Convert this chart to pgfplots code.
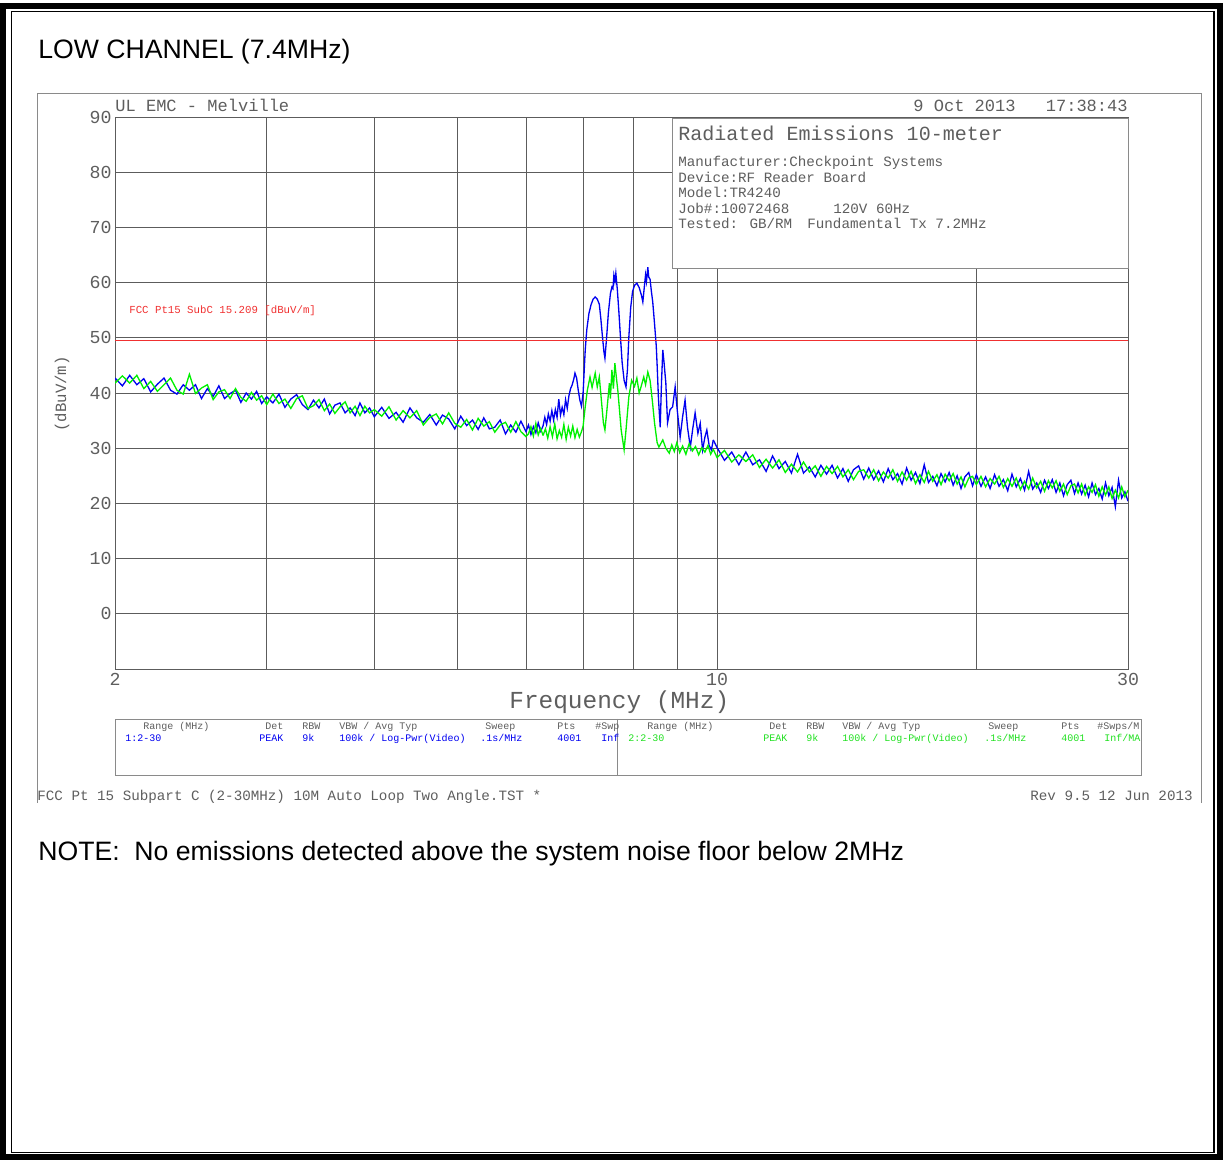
\documentclass[border=0pt]{standalone}
\usepackage{fontspec}
\setmainfont{Liberation Sans}
\newfontfamily\plotfont{Liberation Mono}
\usepackage{pgfplots}
\usepackage{pgfplotstable}
\pgfplotsset{compat=1.18}

\definecolor{gridgray}{HTML}{5C5C5C}
\definecolor{framegray}{HTML}{8A8A8A}
\definecolor{txtgray}{HTML}{5E5E5E}
\definecolor{trblue}{HTML}{0000F0}
\definecolor{trgreen}{HTML}{00F000}
\definecolor{boxgreen}{HTML}{20E020}
\definecolor{limred}{HTML}{F03030}
\newcommand\fs[1]{\fontsize{#1}{#1}\selectfont}

% 2 - 6.28 MHz, peak (b) and second trace (g), dBuV/m
\pgfplotstableread{
f b g
2.00 42.7 41.8
2.04 41.3 43.1
2.08 43.2 41.8
2.12 41.5 43.2
2.16 42.6 40.8
2.20 40.2 42.1
2.24 41.6 40.3
2.28 42.7 41.5
2.32 40.5 42.7
2.36 39.8 40.5
2.40 41.5 39.8
2.44 40.5 43.4
2.48 41.5 39.9
2.52 39.0 40.9
2.56 40.8 41.5
2.60 39.4 38.8
2.64 41.3 40.2
2.68 39.0 40.6
2.72 39.9 39.0
2.76 40.5 40.8
2.80 38.3 39.2
2.84 40.0 38.5
2.88 38.9 40.1
2.92 40.3 38.7
2.96 38.1 39.5
3.00 39.3 37.9
3.05 38.2 39.8
3.10 39.8 38.1
3.15 37.4 38.9
3.20 38.9 37.2
3.25 39.7 39.0
3.30 37.9 39.5
3.35 37.0 37.2
3.40 38.7 37.7
3.45 37.3 38.8
3.50 38.9 36.8
3.55 36.2 38.0
3.60 37.8 36.3
3.65 38.2 37.5
3.70 36.4 38.4
3.75 37.3 36.4
3.80 35.9 37.6
3.85 38.2 35.9
3.90 36.4 37.6
3.95 37.3 36.4
4.00 35.7 37.0
4.08 37.4 35.8
4.16 35.4 37.5
4.24 36.5 35.1
4.32 34.7 36.8
4.40 37.3 35.5
4.48 35.5 36.8
4.56 34.7 34.2
4.64 36.1 35.6
4.72 34.2 36.2
4.80 36.0 34.4
4.88 35.3 36.4
4.96 33.5 34.5
5.04 35.8 33.8
5.12 34.1 35.2
5.20 35.1 33.3
5.28 33.4 35.4
5.36 35.5 34.0
5.44 33.5 34.8
5.52 33.8 32.9
5.60 35.1 34.2
5.68 32.6 34.7
5.76 34.2 32.9
5.84 32.9 34.8
5.92 34.9 33.0
6.00 33.0 32.1
6.04 34.2 32.6
6.08 32.5 33.9
6.12 33.9 32.2
6.16 32.8 34.5
6.20 34.6 32.4
6.24 33.1 33.6
6.28 34.0 32.3
}\lowT

% emission region, peak trace
\pgfplotstableread{
f v
6.28 34.0
6.31 35.6
6.34 34.3
6.37 36.2
6.40 34.9
6.43 36.8
6.46 35.1
6.49 37.0
6.52 35.6
6.55 38.9
6.58 36.0
6.61 37.4
6.64 36.1
6.67 38.8
6.70 37.2
6.73 39.5
6.76 40.8
6.79 41.5
6.82 42.6
6.84 43.6
6.87 42.7
6.90 40.5
6.93 38.7
6.96 37.6
6.99 40.0
7.03 47.8
7.06 51.5
7.10 54.4
7.14 56.0
7.18 57.0
7.22 57.4
7.26 57.0
7.30 56.1
7.33 53.5
7.36 50.3
7.39 47.5
7.41 46.3
7.44 49.6
7.48 54.6
7.52 58.0
7.55 59.2
7.57 58.9
7.59 61.3
7.61 60.2
7.63 61.7
7.66 58.8
7.69 55.0
7.72 50.8
7.76 45.5
7.80 42.3
7.84 41.1
7.87 44.2
7.90 50.1
7.94 55.5
7.98 58.4
8.02 59.5
8.07 59.9
8.12 59.1
8.17 57.7
8.20 56.5
8.23 59.0
8.26 61.4
8.28 60.2
8.31 62.8
8.33 61.0
8.36 60.6
8.39 58.4
8.42 56.5
8.46 52.6
8.50 48.5
8.52 45.0
8.55 39.0
8.59 33.8
8.62 42.0
8.65 47.8
8.68 45.4
8.72 41.8
8.76 34.6
8.82 37.0
8.88 37.5
8.94 41.1
8.99 36.9
9.06 32.0
9.12 35.7
9.18 38.7
9.24 33.8
9.31 30.2
9.37 33.5
9.43 36.4
9.50 32.7
9.56 34.5
9.62 29.7
9.68 32.0
9.73 33.3
9.79 30.5
9.85 29.7
9.90 31.5
}\peakB

% emission region, second trace
\pgfplotstableread{
f v
6.28 32.3
6.32 33.5
6.36 31.8
6.40 33.9
6.44 32.1
6.48 34.4
6.52 31.7
6.56 33.2
6.60 32.0
6.64 34.3
6.68 31.6
6.72 33.8
6.76 32.2
6.80 34.0
6.84 31.9
6.88 33.4
6.92 32.0
6.96 33.0
6.99 34.0
7.03 37.5
7.07 40.5
7.12 42.9
7.16 41.0
7.22 43.6
7.26 41.1
7.30 42.9
7.34 38.7
7.38 34.6
7.41 33.3
7.45 36.9
7.50 41.8
7.52 39.0
7.55 44.2
7.58 40.8
7.61 45.4
7.64 42.9
7.67 40.5
7.70 37.5
7.74 33.3
7.80 29.7
7.84 33.3
7.90 39.3
7.96 42.3
8.02 41.2
8.07 42.7
8.12 40.0
8.16 41.1
8.22 42.9
8.26 41.5
8.31 43.8
8.36 42.3
8.41 38.7
8.46 34.6
8.52 31.0
8.56 30.2
8.65 31.5
8.72 30.0
8.80 29.1
8.86 30.6
8.92 29.4
8.98 31.0
9.05 29.2
9.12 30.4
9.20 28.9
9.28 30.8
9.36 29.5
9.44 30.3
9.52 28.8
9.60 30.1
9.68 29.3
9.76 30.5
9.83 28.9
9.90 29.8
}\peakG

% 9.9 - 30 MHz
\pgfplotstableread{
f b g
9.90 31.5 29.8
10.0 30.1 28.3
10.2 27.8 29.6
10.4 29.3 27.5
10.6 27.0 28.8
10.8 29.3 27.6
11.0 27.0 28.8
11.2 27.9 26.5
11.4 25.8 28.0
11.6 28.6 26.4
11.8 26.3 27.9
12.0 27.6 25.6
12.2 25.5 27.1
12.4 28.9 25.7
12.6 25.5 27.5
12.8 26.6 25.7
13.0 24.8 26.8
13.2 26.9 24.9
13.4 25.3 26.7
13.6 26.9 25.4
13.8 24.6 26.7
14.0 26.3 24.8
14.2 24.0 26.1
14.4 26.1 24.3
14.6 26.8 25.8
14.8 24.4 26.1
15.0 26.4 24.6
15.2 24.3 26.1
15.4 25.9 24.1
15.6 23.9 25.7
15.8 26.3 24.6
16.0 24.3 26.1
16.2 25.4 24.0
16.4 23.5 25.7
16.6 26.4 24.2
16.8 24.2 25.8
17.0 25.6 23.6
17.2 23.6 25.2
17.4 27.0 23.8
17.6 23.8 25.8
17.8 24.9 24.0
18.0 23.2 25.2
18.2 25.4 23.4
18.4 23.9 25.3
18.6 25.6 24.1
18.8 23.3 25.4
19.0 25.0 23.5
19.2 22.7 24.8
19.4 24.8 23.0
19.6 25.6 24.6
19.8 23.2 24.9
20.0 25.2 23.4
20.25 23.1 24.9
20.5 24.8 23.0
20.75 22.7 24.5
21.0 25.2 23.5
21.25 23.1 24.9
21.5 24.3 22.9
21.75 22.3 24.5
22.0 25.3 23.1
22.25 23.0 24.6
22.5 24.5 22.5
22.75 22.4 24.0
23.0 25.8 22.6
23.25 22.6 24.6
23.5 23.7 22.8
23.75 22.0 24.0
24.0 24.2 22.2
24.25 22.7 24.1
24.5 24.3 22.8
24.75 22.0 24.1
25.0 23.7 22.2
25.25 21.4 23.5
25.5 23.4 21.6
25.75 24.2 23.2
26.0 21.8 23.5
26.25 23.7 21.9
26.5 21.7 23.5
26.75 23.3 21.5
27.0 21.2 23.0
27.25 23.7 22.0
27.5 21.6 23.4
27.75 22.7 21.3
28.0 20.8 23.0
28.25 23.7 21.5
28.5 21.4 23.0
28.75 22.9 20.9
29.0 19.4 22.4
29.25 24.2 21.0
29.5 21.0 23.0
29.75 22.1 21.2
30.0 20.4 22.4
}\highT

\begin{document}
\begin{tikzpicture}
% page frame, coordinates in pixels of the original sheet
\begin{scope}[x=0.2mm,y=-0.2mm]
\draw[line width=1.2mm] (3,6) rectangle (1220,1157.5);
\draw[line width=0.35mm] (11.5,11.5) rectangle (1214,1152.5);
\draw[framegray, line width=0.45pt] (37,803) -- (37,93) -- (1201,93) -- (1201,803);
\end{scope}

\begin{axis}[
    at={(23mm,-133.8mm)}, anchor=south west,
    scale only axis,
    width=202.6mm, height=110.4mm,
    xmode=log,
    xmin=2, xmax=30,
    ymin=-10, ymax=90,
    xtick={2,10,30},
    xticklabels={2,10,30},
    minor xtick={3,4,5,6,7,8,9,20},
    ytick={-10,0,10,20,30,40,50,60,70,80,90},
    yticklabels={,0,10,20,30,40,50,60,70,80,90},
    grid=both,
    major grid style={gridgray, line width=0.45pt},
    minor grid style={gridgray, line width=0.45pt},
    axis line style={gridgray, line width=0.45pt},
    major tick length=0pt, minor tick length=0pt,
    tick label style={font=\plotfont\fs{10.4}, text=txtgray},
    yticklabel style={inner sep=0pt, xshift=-0.6mm},
    xticklabel style={inner sep=0pt, yshift=-0.8mm},
]
\addplot[trblue, line width=0.75pt] table[x=f, y=b] {\lowT};
\addplot[trblue, line width=0.75pt] table[x=f, y=v] {\peakB};
\addplot[trblue, line width=0.75pt] table[x=f, y=b] {\highT};
\addplot[trgreen, line width=0.75pt] table[x=f, y=g] {\lowT};
\addplot[trgreen, line width=0.75pt] table[x=f, y=v] {\peakG};
\addplot[trgreen, line width=0.75pt] table[x=f, y=g] {\highT};
\addplot[limred, line width=0.6pt] coordinates {(2,49.5) (30,49.5)};
\end{axis}

\begin{scope}[x=0.2mm,y=-0.2mm, every node/.style={inner sep=0pt}]
% titles in the page font
\node[anchor=base west, font=\fs{15.15}] at (38,59) {LOW CHANNEL (7.4MHz)};
\node[anchor=base west, font=\fs{15.15}] at (38,861)
  {NOTE:\ \ No emissions detected above the system noise floor below 2MHz};

% plot header
\node[anchor=base west, font=\plotfont\fs{9.7}, text=txtgray] at (115,111.5) {UL EMC - Melville};
\node[anchor=base west, font=\plotfont\fs{9.7}, text=txtgray] at (913,111.5) {9 Oct 2013};
\node[anchor=base east, font=\plotfont\fs{9.7}, text=txtgray] at (1128,111.5) {17:38:43};

% test description box
\draw[framegray, fill=white, line width=0.45pt] (672,118) rectangle (1128,268);
\node[anchor=base west, font=\plotfont\fs{11.4}, text=txtgray] at (678,140.5) {Radiated Emissions 10-meter};
\begin{scope}[every node/.append style={anchor=base west, font=\plotfont\fs{8.1}, text=txtgray}]
\node at (678,166.5) {Manufacturer:Checkpoint Systems};
\node at (678,182.5) {Device:RF Reader Board};
\node at (678,197.5) {Model:TR4240};
\node at (678,213.5) {Job\#:10072468};
\node at (833,213.5) {120V 60Hz};
\node at (678,228.5) {Tested: GB/RM};
\node at (807,228.5) {Fundamental Tx 7.2MHz};
\end{scope}

% limit label and axis labels
\node[anchor=base west, font=\plotfont\fs{6.1}, text=limred] at (129,314) {FCC Pt15 SubC 15.209 [dBuV/m]};
\node[rotate=90, font=\plotfont\fs{8.9}, text=txtgray] at (62,394) {(dBuV/m)};
\node[anchor=base west, font=\plotfont\fs{13.9}, text=txtgray] at (509,709) {Frequency (MHz)};

% sweep settings box
\draw[framegray, line width=0.45pt] (115,719) rectangle (1141,775);
\draw[framegray, line width=0.45pt] (617,719) -- (617,775);
\begin{scope}[every node/.append style={anchor=base west, font=\plotfont\fs{5.7}, text=txtgray}]
\node at (143,730) {Range (MHz)};
\node at (265,730) {Det};
\node at (302,730) {RBW};
\node at (339,730) {VBW / Avg Typ};
\node at (485,730) {Sweep};
\node at (557,730) {Pts};
\node at (595,730) {\#Swp};
\node at (647,730) {Range (MHz)};
\node at (769,730) {Det};
\node at (806,730) {RBW};
\node at (842,730) {VBW / Avg Typ};
\node at (988,730) {Sweep};
\node at (1061,730) {Pts};
\node at (1097,730) {\#Swps/M};
\end{scope}
\begin{scope}[every node/.append style={anchor=base west, font=\plotfont\fs{5.7}, text=trblue}]
\node at (125,742) {1:2-30};
\node at (259,742) {PEAK};
\node at (302,742) {9k};
\node at (339,742) {100k / Log-Pwr(Video)};
\node at (480,742) {.1s/MHz};
\node at (557,742) {4001};
\node at (601,742) {Inf};
\end{scope}
\begin{scope}[every node/.append style={anchor=base west, font=\plotfont\fs{5.7}, text=boxgreen}]
\node at (628,742) {2:2-30};
\node at (763,742) {PEAK};
\node at (806,742) {9k};
\node at (842,742) {100k / Log-Pwr(Video)};
\node at (984,742) {.1s/MHz};
\node at (1061,742) {4001};
\node at (1104,742) {Inf/MA};
\end{scope}

% footer of the plot
\node[anchor=base west, font=\plotfont\fs{8.1}, text=txtgray] at (37,801)
  {FCC Pt 15 Subpart C (2-30MHz) 10M Auto Loop Two Angle.TST *};
\node[anchor=base east, font=\plotfont\fs{8.1}, text=txtgray] at (1193,801) {Rev 9.5 12 Jun 2013};
\end{scope}

\pgfresetboundingbox
\path (0,0) rectangle (244.6mm,-232.2mm);
\end{tikzpicture}
\end{document}
